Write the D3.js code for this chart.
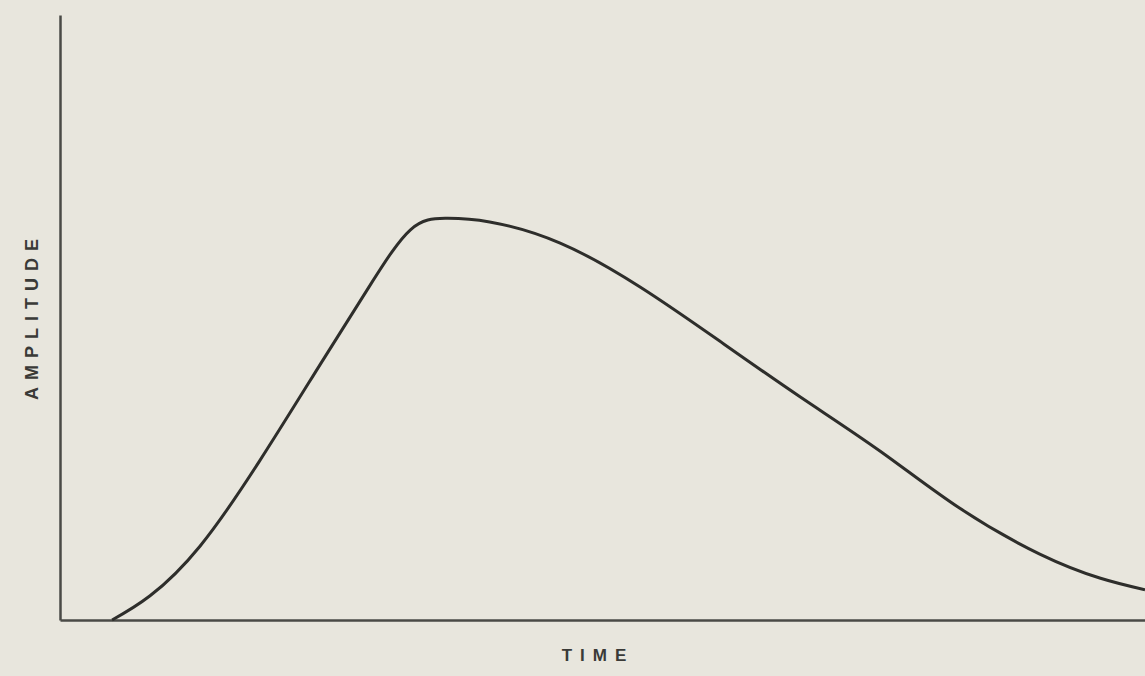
<!DOCTYPE html>
<html lang="en">
<head>
  <meta charset="UTF-8" />
  <title>amplitude vs time</title>
  <script src="https://cdn.jsdelivr.net/npm/d3@7"></script>
  <style>
    body { margin: 0; background: #e8e6dd; }
  </style>
</head>
<body>
<script type="text/javascript">

const WIDTH = 1145;
const HEIGHT = 676;

// pulse shape (arbitrary units, 0-100 on both axes)
const time = [4.8, 8.3, 12.9, 18.4, 24.0, 28.6, 32.3, 35.5, 39.6, 46.1,
              53.5, 60.8, 68.2, 75.6, 82.9, 90.3, 95.9, 100];
const amplitude = [0, 4.0, 12.2, 26.3, 42.3, 55.4, 64.5, 66.4, 65.8, 62.3,
                   55.0, 46.1, 36.9, 27.9, 18.5, 10.9, 6.9, 5.0];

const data = time.map((t, i) => ({t: t, a: amplitude[i]}));

const svg = d3.select("body")
    .append("svg")
        .attr("width", WIDTH)
        .attr("height", HEIGHT);

const xScale = d3.scaleLinear()
    .domain([0, 100])
    .range([60, 1145]);
const yScale = d3.scaleLinear()
    .domain([0, 100])
    .range([620, 15]);

// axes: plain lines, no ticks
svg.append("g")
    .attr("transform", `translate(60,0)`)
    .call(d3.axisLeft(yScale).tickValues([]).tickSizeOuter(0))
    .call(g => g.select(".domain")
        .attr("stroke", "#4a4a46")
        .attr("stroke-width", 2.5));
svg.append("g")
    .attr("transform", `translate(0,620)`)
    .call(d3.axisBottom(xScale).tickValues([]).tickSizeOuter(0))
    .call(g => g.select(".domain")
        .attr("stroke", "#4a4a46")
        .attr("stroke-width", 2.5));

// curve
const line = d3.line()
    .x(d => xScale(d.t))
    .y(d => yScale(d.a))
    .curve(d3.curveNatural);

svg.append("path")
    .datum(data)
    .attr("fill", "none")
    .attr("stroke", "#2e2e2b")
    .attr("stroke-width", 3)
    .attr("d", line);

// labels
svg.append("text")
    .attr("transform", "translate(38,316) rotate(-90)")
    .attr("text-anchor", "middle")
    .attr("font-family", "Liberation Sans, Arial")
    .attr("font-weight", "bold")
    .attr("font-size", "18px")
    .attr("letter-spacing", "7px")
    .attr("fill", "#3a3a37")
    .text("AMPLITUDE");

svg.append("text")
    .attr("x", 598)
    .attr("y", 661)
    .attr("text-anchor", "middle")
    .attr("font-family", "Liberation Sans, Arial")
    .attr("font-weight", "bold")
    .attr("font-size", "17px")
    .attr("letter-spacing", "8px")
    .attr("fill", "#3a3a37")
    .text("TIME");

</script>
</body>
</html>
